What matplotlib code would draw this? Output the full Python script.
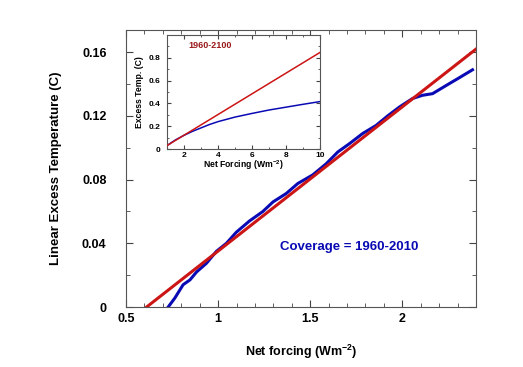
import matplotlib.pyplot as plt
from matplotlib.ticker import MultipleLocator

plt.rcParams['font.family'] = ['Liberation Sans', 'DejaVu Sans']
plt.rcParams['font.weight'] = 'bold'
plt.rcParams['mathtext.fontset'] = 'custom'
plt.rcParams['mathtext.bf'] = 'Liberation Sans:bold'
plt.rcParams['mathtext.rm'] = 'Liberation Sans:bold'

# main panel: coverage 1960-2010
fit_x = [0.612, 2.40]
fit_y = [0.0, 0.162]
obs_x = [0.729, 0.765, 0.81, 0.847, 0.883, 0.937, 0.991, 1.045, 1.099, 1.17,
         1.243, 1.298, 1.37, 1.433, 1.514, 1.587, 1.65, 1.713, 1.785, 1.857,
         1.92, 1.984, 2.056, 2.11, 2.164, 2.236, 2.309, 2.381]
obs_y = [0.0, 0.0056, 0.014, 0.017, 0.022, 0.0275, 0.035, 0.040, 0.047, 0.054,
         0.060, 0.066, 0.0713, 0.0776, 0.083, 0.090, 0.0974, 0.1026, 0.109, 0.114,
         0.120, 0.1256, 0.131, 0.133, 0.134, 0.139, 0.144, 0.149]

# inset: 1960-2100
ins_fit_x = [1.0, 10.0]
ins_fit_y = [0.03, 0.847]
ins_obs_x = [1.0, 1.5, 2.0, 2.5, 3.0, 3.5, 4.0, 5.0, 6.0, 7.0, 8.0, 9.0, 10.0]
ins_obs_y = [0.03, 0.08, 0.12, 0.155, 0.185, 0.215, 0.24, 0.28, 0.312, 0.342, 0.367, 0.392, 0.416]

red = '#cc1515'
blue = '#0a0ab4'

fig = plt.figure(figsize=(5.23, 3.67), dpi=100)
ax = fig.add_axes([126 / 523, 1 - 307 / 367, 350 / 523, 277 / 367])
ax.plot(fit_x, fit_y, color=red, lw=2.2, zorder=3)
ax.plot(obs_x, obs_y, color=blue, lw=2.2, zorder=2)
ax.set_xlim(0.5, 2.4)
ax.set_ylim(0, 0.174)
ax.xaxis.set_minor_locator(MultipleLocator(0.1))
ax.yaxis.set_minor_locator(MultipleLocator(0.02))
ax.set_xticks([0.5, 1, 1.5, 2])
ax.set_xticklabels(['0.5', '1', '1.5', '2'])
ax.set_yticks([0, 0.04, 0.08, 0.12, 0.16])
ax.set_yticklabels(['0', '0.04', '0.08', '0.12', '0.16'])
ax.tick_params(which='both', direction='in', top=True, right=True, labelsize=9, color='#444444')
ax.tick_params(which='major', length=5)
ax.tick_params(which='minor', length=3)
ax.tick_params(axis='x', pad=4)
ax.tick_params(axis='y', pad=14)
for s in ax.spines.values():
    s.set_color('#555555')
ax.set_xlabel('Net forcing (Wm$^{-2}$)', fontsize=9, fontweight='bold', labelpad=13)
ax.set_ylabel('Linear Excess Temperature (C)', fontsize=9.5, fontweight='bold', labelpad=14)
ax.text(1.334, 0.038, 'Coverage = 1960-2010', color=blue, fontsize=9.5, fontweight='bold', va='center')

ins = fig.add_axes([167 / 523, 1 - 149 / 367, 153 / 523, 114 / 367])
ins.plot(ins_fit_x, ins_fit_y, color=red, lw=1.1, zorder=3)
ins.plot(ins_obs_x, ins_obs_y, color=blue, lw=1.1, zorder=2)
ins.set_xlim(1, 10)
ins.set_ylim(0, 1.0)
ins.set_xticks([2, 4, 6, 8, 10])
ins.xaxis.set_minor_locator(MultipleLocator(1))
ins.set_yticks([0, 0.2, 0.4, 0.6, 0.8])
ins.set_yticklabels(['0', '0.2', '0.4', '0.6', '0.8'])
ins.yaxis.set_minor_locator(MultipleLocator(0.1))
ins.tick_params(which='both', direction='in', top=True, right=True, labelsize=6, pad=2, color='#444444')
ins.tick_params(which='major', length=3)
ins.tick_params(which='minor', length=1.5)
ins.tick_params(axis='y', pad=5)
for s in ins.spines.values():
    s.set_color('#555555')
ins.set_xlabel('Net Forcing (Wm$^{-2}$)', fontsize=6.2, fontweight='bold', labelpad=0)
ins.set_ylabel('Excess Temp. (C)', fontsize=6.2, fontweight='bold', labelpad=3)
ins.text(0.14, 0.91, '1960-2100', transform=ins.transAxes, color='#9a1a1a', fontsize=6.5, fontweight='bold', va='center')

fig.savefig('out.png', dpi=100)
